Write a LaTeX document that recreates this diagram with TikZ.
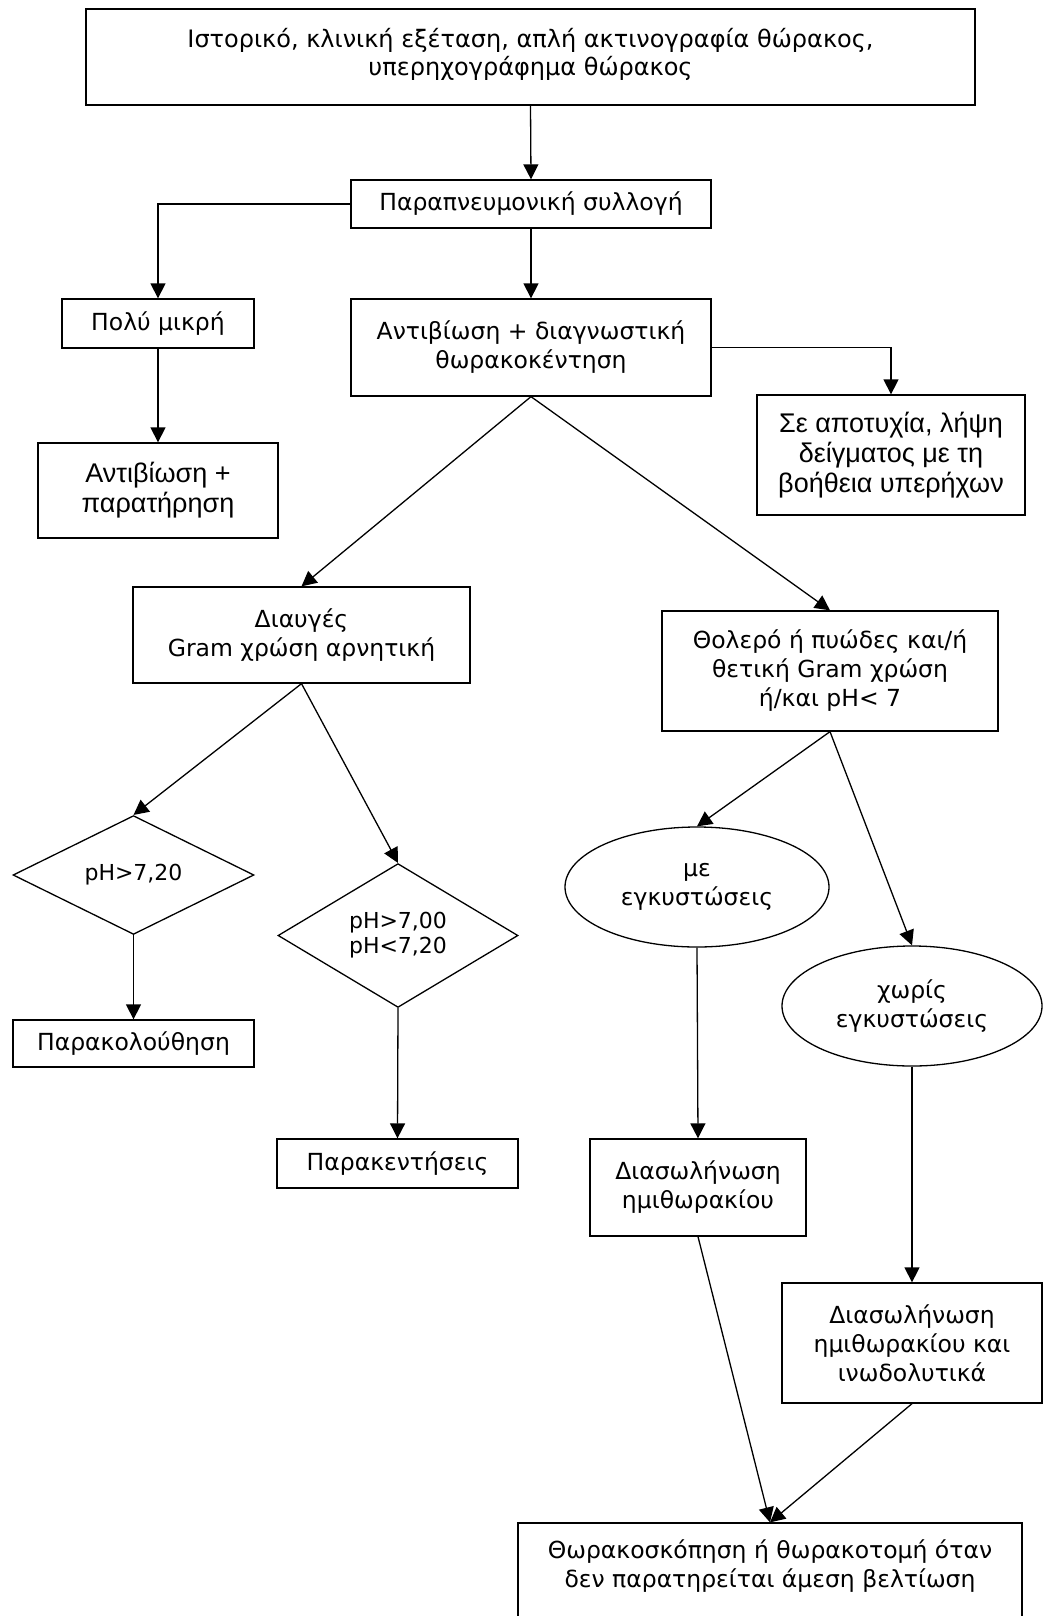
\documentclass[tikz,border=0pt]{standalone}
\usepackage{fontspec}
\setmainfont{DejaVu Sans}
\newfontfamily\arialfont{Liberation Sans}
\usepackage{tikz}
\usetikzlibrary{arrows.meta, positioning, shapes.geometric}

\begin{document}
\begin{tikzpicture}[x=1pt, y=-1pt,
    font=\fontsize{23.5}{29}\selectfont,
    box/.style={rectangle, draw, line width=1.3pt, inner sep=0pt, align=center},
    dia/.style={diamond, draw, line width=1.3pt, inner sep=0pt, align=center, font=\fontsize{22}{25}\selectfont},
    ell/.style={ellipse, draw, line width=1.3pt, inner sep=0pt, align=center},
    arial/.style={font=\arialfont\fontsize{27}{30}\selectfont},
    arr/.style={-{Triangle[length=15pt, width=15pt]}, line width=1.3pt}]
    \clip (0,0) rectangle (1043,1616);

    \node[box, minimum width=889pt, minimum height=96pt] (hist) at (530.5,57) {};
    \node[align=center, inner sep=0pt, font=\fontsize{24}{28}\selectfont] (histtext) at (530.5,54) {Ιστορικό, κλινική εξέταση, απλή ακτινογραφία θώρακος,\\υπερηχογράφημα θώρακος};
    \node[box, minimum width=360pt, minimum height=48pt] (para) at (531,204) {Παραπνευμονική συλλογή};
    \node[box, minimum width=192pt, minimum height=49pt] (polu) at (158,323.5) {Πολύ μικρή};
    \node[box, minimum width=360pt, minimum height=97pt] (antib) at (531,347.5) {Αντιβίωση + διαγνωστική\\θωρακοκέντηση};
    \node[box, arial, minimum width=268pt, minimum height=120pt] (se) at (891,455) {Σε αποτυχία, λήψη\\δείγματος με τη\\βοήθεια υπερήχων};
    \node[box, arial, minimum width=240pt, minimum height=95pt] (antpar) at (158,490.5) {Αντιβίωση +\\παρατήρηση};
    \node[box, minimum width=337pt, minimum height=96pt] (diaug) at (301.5,635) {Διαυγές\\Gram χρώση αρνητική};
    \node[box, minimum width=336pt, minimum height=120pt] (thol) at (830,671) {Θολερό ή πυώδες και/ή\\θετική Gram χρώση\\ή/και pH< 7};
    \node[dia, minimum width=241pt, minimum height=96pt] (d1) at (133.5,875) {pH>7,20};
    \node[dia, minimum width=240pt, minimum height=119pt] (d2) at (398,935.5) {pH>7,00\\pH<7,20};
    \node[box, minimum width=241pt, minimum height=47pt] (parak) at (133.5,1043.5) {Παρακολούθηση};
    \node[box, minimum width=241pt, minimum height=49pt] (paraken) at (397.5,1163.5) {Παρακεντήσεις};
    \node[ell, minimum width=264pt, minimum height=120pt] (me) at (697,887) {με\\εγκυστώσεις};
    \node[ell, minimum width=260pt, minimum height=120pt] (xoris) at (912,1006) {χωρίς\\εγκυστώσεις};
    \node[box, minimum width=216pt, minimum height=97pt] (dias1) at (698,1187.5) {Διασωλήνωση\\ημιθωρακίου};
    \node[box, minimum width=260pt, minimum height=120pt] (dias2) at (912,1343) {Διασωλήνωση\\ημιθωρακίου και\\ινωδολυτικά};
    \node[box, minimum width=504pt, minimum height=137pt] (fin) at (770,1591.5) {};
    \node[align=center, inner sep=0pt] (fintext) at (770,1566) {Θωρακοσκόπηση ή θωρακοτομή όταν\\δεν παρατηρείται άμεση βελτίωση};

    \draw[arr] (hist.south) -- (para.north);
    \draw[arr] (para.west) -| (polu.north);
    \draw[arr] (para.south) -- (antib.north);
    \draw[arr] (antib.east) -| (se.north);
    \draw[arr] (polu.south) -- (antpar.north);
    \draw[arr] (antib.south) -- (diaug.north);
    \draw[arr] (antib.south) -- (thol.north);
    \draw[arr] (diaug.south) -- (d1.north);
    \draw[arr] (diaug.south) -- (d2.north);
    \draw[arr] (d1.south) -- (parak.north);
    \draw[arr] (d2.south) -- (paraken.north);
    \draw[arr] (thol.south) -- (me.north);
    \draw[arr] (thol.south) -- (xoris.north);
    \draw[arr] (me.south) -- (dias1.north);
    \draw[arr] (xoris.south) -- (dias2.north);
    \draw[arr] (dias1.south) -- (fin.north);
    \draw[arr] (dias2.south) -- (fin.north);
\end{tikzpicture}
\end{document}
